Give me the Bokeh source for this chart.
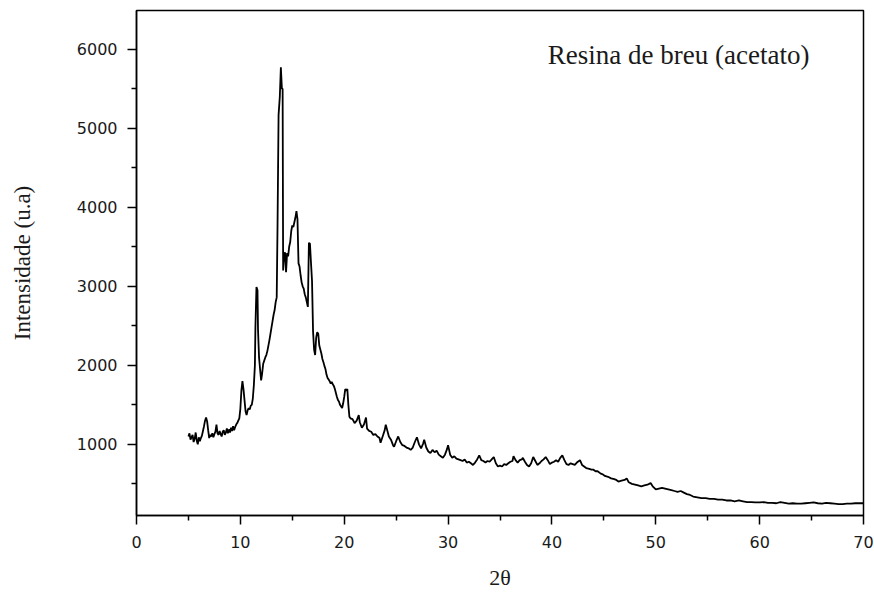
from bokeh.plotting import figure
from bokeh.models import Range1d, FixedTicker, Label
from bokeh.embed import file_html
from bokeh.resources import INLINE

# ---- data (2θ, intensity in u.a.) ----
two_theta = [
    5.0, 5.1, 5.2, 5.3, 5.4, 5.5, 5.6, 5.7, 5.8, 5.9,
    6.0, 6.1, 6.2, 6.3, 6.4, 6.5, 6.6, 6.7, 6.8, 6.9,
    7.0, 7.1, 7.2, 7.3, 7.4, 7.5, 7.6, 7.7, 7.8, 7.9,
    8.0, 8.1, 8.2, 8.3, 8.4, 8.5, 8.6, 8.7, 8.8, 8.9,
    9.0, 9.1, 9.2, 9.3, 9.4, 9.5, 9.6, 9.7, 9.8, 9.9,
    10.0, 10.1, 10.2, 10.3, 10.4, 10.5, 10.6, 10.7, 10.8, 10.9,
    11.0, 11.1, 11.2, 11.3, 11.4, 11.45, 11.55, 11.65, 11.7, 11.8, 11.9,
    12.0, 12.1, 12.2, 12.3, 12.4, 12.5, 12.6, 12.7, 12.8, 12.9,
    13.0, 13.1, 13.2, 13.3, 13.4, 13.5, 13.58, 13.68, 13.8, 13.9,
    14.0, 14.07, 14.12, 14.2, 14.3, 14.4, 14.5, 14.6, 14.7, 14.8, 14.9,
    15.0, 15.1, 15.2, 15.3, 15.4, 15.5, 15.6, 15.7, 15.8, 15.9,
    16.0, 16.1, 16.2, 16.3, 16.4, 16.5, 16.6, 16.7, 16.8, 16.9,
    17.0, 17.1, 17.2, 17.3, 17.4, 17.5, 17.6, 17.7, 17.8, 17.9,
    18.0, 18.1, 18.2, 18.3, 18.4, 18.5, 18.6, 18.7, 18.8, 18.9,
    19.0, 19.1, 19.2, 19.3, 19.4, 19.5, 19.6, 19.7, 19.8, 19.9,
    20.0, 20.1, 20.2, 20.3, 20.4, 20.5, 20.6, 20.8,
    21.0, 21.2, 21.4, 21.5, 21.7, 21.9, 22.1, 22.2, 22.4, 22.6, 22.8,
    23.0, 23.2, 23.4, 23.5, 23.7, 23.9, 24.0, 24.2, 24.3, 24.5, 24.7, 24.8,
    25.0, 25.2, 25.4, 25.6, 25.8, 26.0, 26.2, 26.4, 26.6, 26.8,
    27.0, 27.2, 27.4, 27.6, 27.7, 27.9, 28.1, 28.3, 28.5, 28.7, 28.9,
    29.1, 29.3, 29.5, 29.7, 29.9, 30.0, 30.2, 30.4, 30.6, 30.8,
    31.0, 31.2, 31.4, 31.6, 31.8, 32.0, 32.2, 32.4, 32.6, 32.8,
    33.0, 33.2, 33.4, 33.6, 33.8, 34.0, 34.2, 34.4, 34.6, 34.8,
    35.0, 35.2, 35.4, 35.6, 35.8, 36.0, 36.2, 36.3, 36.5, 36.7, 36.9,
    37.1, 37.2, 37.4, 37.6, 37.8, 38.0, 38.2, 38.4, 38.6, 38.8,
    39.0, 39.2, 39.4, 39.6, 39.8, 40.0, 40.2, 40.4, 40.6, 40.8,
    41.0, 41.2, 41.4, 41.6, 41.8, 42.0, 42.2, 42.4, 42.7, 42.9,
    43.1, 43.3, 43.6, 43.8, 44.0, 44.2, 44.4, 44.7, 44.9,
    45.1, 45.4, 45.7, 46.0, 46.2, 46.4, 46.7, 47.0, 47.2, 47.4, 47.7,
    48.0, 48.3, 48.6, 48.9, 49.2, 49.5, 49.7, 50.0, 50.3, 50.6, 50.9,
    51.2, 51.5, 51.8, 52.1, 52.4, 52.7, 53.0, 53.3, 53.6, 54.0,
    54.4, 54.8, 55.2, 55.6, 56.0, 56.4, 56.8, 57.2, 57.6, 58.0,
    58.4, 58.8, 59.2, 59.6, 60.0, 60.4, 60.8, 61.2, 61.6, 62.0,
    62.4, 62.8, 63.2, 63.6, 64.0, 64.4, 64.8, 65.2, 65.6, 66.0,
    66.4, 66.8, 67.2, 67.6, 68.0, 68.4, 68.8, 69.2, 69.6, 70.0,
]
intensity = [
    1100, 1140, 1060, 1090, 1120, 1030, 1070, 1150, 1050, 1000,
    1090, 1040, 1080, 1110, 1170, 1230, 1300, 1340, 1290, 1180,
    1080, 1120, 1100, 1140, 1090, 1130, 1160, 1250, 1140, 1120,
    1170, 1130, 1100, 1160, 1180, 1120, 1150, 1200, 1140, 1190,
    1150, 1210, 1170, 1230, 1180, 1220, 1250, 1270, 1300, 1330,
    1450, 1680, 1800, 1700, 1560, 1420, 1370, 1430, 1460, 1440,
    1490, 1500, 1580, 1750, 2000, 2480, 2990, 2950, 2450, 2100, 1950,
    1810, 1900, 2020, 2060, 2100, 2130, 2180, 2250, 2320, 2400,
    2480, 2560, 2640, 2700, 2800, 2860, 3770, 5170, 5400, 5770,
    5500, 5500, 3200, 3400, 3430, 3180, 3420, 3380, 3500, 3560, 3700,
    3770, 3750, 3810, 3870, 3950, 3850, 3290, 3250, 3140, 3050,
    3000, 2970, 2900, 2860, 2800, 2740, 3550, 3540, 3300, 3070,
    2430, 2200, 2130, 2350, 2420, 2400, 2250, 2200, 2150, 2080,
    2040, 1990, 1950, 1880, 1840, 1820, 1800, 1770, 1790, 1760,
    1740, 1700, 1650, 1600, 1560, 1540, 1500, 1480, 1460, 1520,
    1600, 1700, 1680, 1700, 1500, 1350, 1330, 1320,
    1270, 1300, 1370, 1280, 1210, 1250, 1340, 1200, 1170, 1160, 1120,
    1130, 1100, 1080, 1020, 1100, 1180, 1250, 1150, 1100, 1060, 990, 970,
    1040, 1100, 1030, 990, 980, 960, 950, 930, 960, 1030,
    1090, 1000, 950, 1010, 1060, 960, 910, 890, 930, 900, 920,
    870, 850, 830, 870, 940, 990, 870, 830, 850, 820,
    810, 800, 790, 810, 770, 780, 760, 740, 770, 810,
    860, 800, 790, 770, 790, 780, 810, 840, 760, 720,
    730, 720, 750, 740, 760, 780, 790, 850, 800, 770, 800,
    810, 830, 780, 740, 720, 760, 840, 790, 740, 760,
    790, 810, 840, 800, 750, 770, 780, 800, 780, 830,
    860, 800, 750, 740, 760, 750, 740, 770, 800, 740,
    720, 700, 690, 680, 680, 660, 660, 630, 620,
    600, 590, 570, 560, 550, 530, 540, 550, 570, 520, 500,
    490, 480, 470, 480, 490, 510, 470, 430, 440, 450, 440,
    430, 420, 410, 400, 410, 390, 370, 360, 340, 330,
    320, 320, 310, 310, 300, 300, 290, 290, 280, 290,
    280, 270, 270, 265, 265, 270, 260, 260, 255, 270,
    260, 250, 255, 250, 250, 255, 260, 265, 255, 250,
    260, 255, 250, 245, 245, 250, 250, 255, 255, 255,
]

x_major = [0, 10, 20, 30, 40, 50, 60, 70]
x_minor = [5, 15, 25, 35, 45, 55, 65]
y_major = [1000, 2000, 3000, 4000, 5000, 6000]
y_minor = [500, 1500, 2500, 3500, 4500, 5500]
title_text = "Resina de breu (acetato)"
x_label = "2θ"
y_label = "Intensidade (u.a)"

p = figure(width=874, height=592, output_backend="svg", toolbar_location=None,
           x_range=Range1d(0, 70), y_range=Range1d(100, 6490),
           min_border_left=136, min_border_right=11, min_border_top=10,
           min_border_bottom=75, background_fill_color="white",
           border_fill_color="white")

p.xgrid.visible = False
p.ygrid.visible = False
p.outline_line_color = "black"
p.outline_line_width = 1.5
p.outline_line_alpha = 1.0

p.line(two_theta, intensity, line_color="black", line_width=1.8)

for ax, maj, mnr in ((p.xaxis, x_major, x_minor), (p.yaxis, y_major, y_minor)):
    ax.ticker = FixedTicker(ticks=maj, minor_ticks=mnr)
    ax.axis_line_color = "black"
    ax.axis_line_width = 1.5
    ax.major_tick_line_color = "black"
    ax.major_tick_line_width = 1.5
    ax.minor_tick_line_color = "black"
    ax.minor_tick_line_width = 1.5
    ax.major_tick_in = 0
    ax.major_tick_out = 9
    ax.minor_tick_in = 0
    ax.minor_tick_out = 5
    ax.major_label_text_font = "DejaVu Sans"
    ax.major_label_text_font_size = "16px"
    ax.major_label_text_color = "#1a1a1a"
    ax.axis_label_text_font = "Liberation Serif"
    ax.axis_label_text_font_style = "normal"
    ax.axis_label_text_color = "#1a1a1a"

p.xaxis.axis_label = x_label
p.xaxis.axis_label_text_font_size = "22px"
p.xaxis.major_label_standoff = 11
p.xaxis.axis_label_standoff = 14

p.yaxis.axis_label = y_label
p.yaxis.axis_label_text_font_size = "23px"
p.yaxis.major_label_standoff = 10
p.yaxis.axis_label_standoff = 39

p.add_layout(Label(x=39.6, y=5933, text=title_text,
                   text_font="Liberation Serif", text_font_size="27px",
                   text_baseline="middle", text_align="left",
                   text_color="#1a1a1a"))

open("out.html", "w").write(file_html(p, INLINE))
